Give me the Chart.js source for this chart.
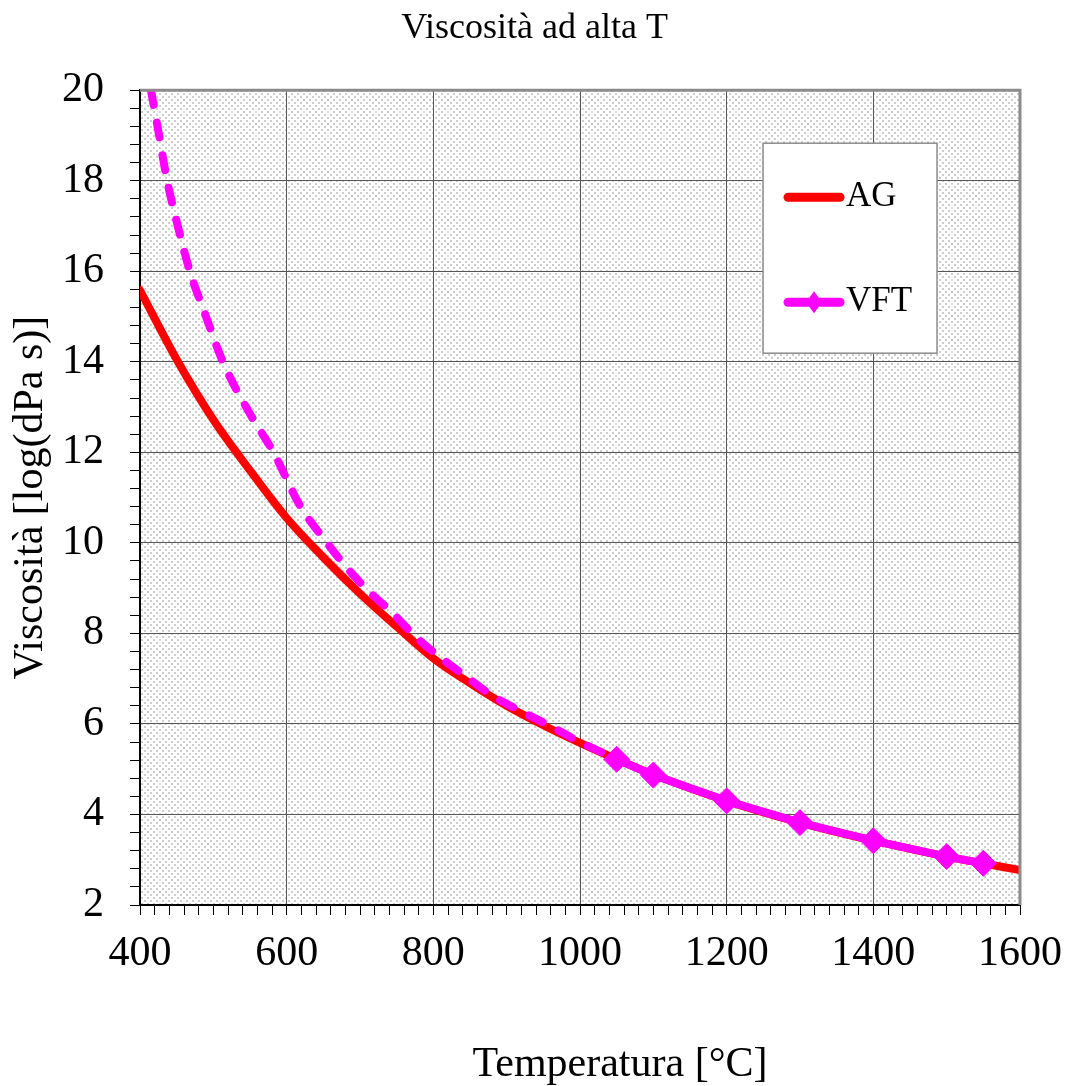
<!DOCTYPE html>
<html>
<head>
<meta charset="utf-8">
<title>Viscosità ad alta T</title>
<script src="https://cdn.jsdelivr.net/npm/chart.js@4.4.1/dist/chart.umd.min.js"></script>
<style>
  body { margin: 0; background: #fff; }
  canvas { display: block; }
</style>
</head>
<body>
<canvas id="myChart" width="1069" height="1086"></canvas>
<script>
// AG curve
var agTemp = [400, 450, 500, 550, 600, 650, 700, 750, 800, 850, 900, 950, 1000, 1050, 1100, 1200, 1300, 1400, 1500, 1550, 1600];
var agVisc = [15.58, 14.05, 12.72, 11.6, 10.55, 9.68, 8.88, 8.15, 7.45, 6.9, 6.4, 5.97, 5.58, 5.22, 4.88, 4.3, 3.82, 3.42, 3.07, 2.92, 2.77];

// VFT extrapolated part (dashed)
var vftDashTemp = [415, 425, 437, 450, 468, 490, 513, 550, 582, 618, 655, 682, 714, 745, 775, 807, 842, 879, 916, 960, 1000, 1050];
var vftDashVisc = [20.0, 19.1, 18.0, 17.1, 16.0, 15.0, 14.0, 12.85, 12.0, 10.83, 10.0, 9.45, 8.9, 8.44, 7.94, 7.5, 7.08, 6.64, 6.31, 5.95, 5.6, 5.22];

// VFT points with markers
var vftTemp = [1050, 1100, 1200, 1300, 1400, 1500, 1550];
var vftVisc = [5.22, 4.87, 4.30, 3.82, 3.42, 3.07, 2.92];

var xTickLabels = [400, 600, 800, 1000, 1200, 1400, 1600];
var yTickLabels = [2, 4, 6, 8, 10, 12, 14, 16, 18, 20];

var FONT = "'Liberation Serif', 'Times New Roman', serif";

function toPoints(xs, ys) {
    var pts = [];
    for (let i = 0; i < xs.length; i++) {
        pts.push({x: xs[i], y: ys[i]});
    }
    return pts;
}

function isMajor(list, v) {
    return list.some(function(t) { return Math.abs(t - v) < 1e-6; });
}

// dotted plot background
function makePattern() {
    var c = document.createElement('canvas');
    c.width = 6;
    c.height = 6;
    var g = c.getContext('2d');
    g.fillStyle = '#ffffff';
    g.fillRect(0, 0, 6, 6);
    g.fillStyle = '#cdcdcd';
    g.fillRect(0, 0, 2, 2);
    g.fillRect(3, 3, 2, 2);
    return g.createPattern(c, 'repeat');
}

var plotBackground = {
    id: 'plotBackground',
    beforeDraw: function(chart) {
        var a = chart.chartArea;
        var ctx = chart.ctx;
        ctx.save();
        ctx.fillStyle = makePattern();
        ctx.fillRect(a.left, a.top, a.right - a.left, a.bottom - a.top);
        ctx.restore();
    },
    afterDatasetsDraw: function(chart) {
        var a = chart.chartArea;
        var ctx = chart.ctx;
        ctx.save();
        // grey frame on top and right
        ctx.strokeStyle = '#8c8c8c';
        ctx.lineWidth = 3;
        ctx.beginPath();
        ctx.moveTo(a.left, a.top);
        ctx.lineTo(a.right, a.top);
        ctx.lineTo(a.right, a.bottom);
        ctx.stroke();
        ctx.restore();
    }
};

// legend box inside the plot
var boxLegend = {
    id: 'boxLegend',
    afterDatasetsDraw: function(chart) {
        var ctx = chart.ctx;
        var a = chart.chartArea;
        var bx = a.left + (a.right - a.left) * 0.708;
        var by = a.top + 53;
        var bw = 174, bh = 210;
        ctx.save();
        ctx.fillStyle = '#ffffff';
        ctx.fillRect(bx, by, bw, bh);
        ctx.strokeStyle = '#8c8c8c';
        ctx.lineWidth = 1.5;
        ctx.strokeRect(bx, by, bw, bh);

        var items = chart.data.datasets.filter(function(d) { return !d.hideInLegend; });
        items.forEach(function(d, i) {
            var y = by + 54 + i * 105;
            ctx.strokeStyle = d.borderColor;
            ctx.lineWidth = 9;
            ctx.lineCap = 'round';
            ctx.beginPath();
            ctx.moveTo(bx + 25, y);
            ctx.lineTo(bx + 77, y);
            ctx.stroke();
            if (d.pointRadius) {
                ctx.fillStyle = d.borderColor;
                ctx.beginPath();
                ctx.moveTo(bx + 51, y - 11);
                ctx.lineTo(bx + 59, y);
                ctx.lineTo(bx + 51, y + 11);
                ctx.lineTo(bx + 43, y);
                ctx.closePath();
                ctx.fill();
            }
            ctx.fillStyle = '#000';
            ctx.font = '35px ' + FONT;
            ctx.textBaseline = 'middle';
            ctx.textAlign = 'left';
            ctx.fillText(d.label, bx + 83, y);
        });
        ctx.restore();
    }
};

// x axis title, placed a little right of centre like the original
var xTitle = {
    id: 'xTitle',
    afterDraw: function(chart) {
        var ctx = chart.ctx;
        var a = chart.chartArea;
        ctx.save();
        ctx.fillStyle = '#000';
        ctx.font = '42px ' + FONT;
        ctx.textAlign = 'center';
        ctx.textBaseline = 'alphabetic';
        ctx.fillText('Temperatura [°C]', (a.left + a.right) / 2 + 40, a.bottom + 171);
        ctx.restore();
    }
};

var ctx = document.getElementById('myChart').getContext('2d');
var myChart = new Chart(ctx, {
    type: 'line',
    data: {
        datasets: [{
            label: 'AG',
            data: toPoints(agTemp, agVisc),
            borderColor: '#ff0000',
            borderWidth: 8,
            borderCapStyle: 'round',
            pointRadius: 0,
            cubicInterpolationMode: 'monotone',
            order: 3
        }, {
            label: 'VFT (extrapolated)',
            hideInLegend: true,
            data: toPoints(vftDashTemp, vftDashVisc),
            borderColor: '#ff00ff',
            borderWidth: 8,
            borderDash: [15, 18],
            borderCapStyle: 'round',
            pointRadius: 0,
            cubicInterpolationMode: 'monotone',
            order: 2
        }, {
            label: 'VFT',
            data: toPoints(vftTemp, vftVisc),
            borderColor: '#ff00ff',
            backgroundColor: '#ff00ff',
            borderWidth: 8,
            borderCapStyle: 'round',
            pointStyle: 'rectRot',
            pointRadius: 13,
            pointBorderWidth: 1,
            pointBackgroundColor: '#ff00ff',
            order: 1
        }]
    },
    options: {
        responsive: false,
        animation: false,
        layout: {
            padding: {left: 0, right: 0, top: 0, bottom: 90}
        },
        plugins: {
            legend: { display: false },
            tooltip: { enabled: false },
            title: {
                display: true,
                text: 'Viscosità ad alta T',
                color: '#000',
                font: { family: FONT, size: 36, weight: 'normal' },
                padding: { top: 7, bottom: 40 }
            }
        },
        scales: {
            x: {
                type: 'linear',
                min: 400,
                max: 1600,
                afterFit: function(scale) {
                    // room on the right for the last label
                    scale.height = 91;
                    scale.paddingRight = 49;
                    scale.paddingLeft = 0;
                },
                border: { color: '#000', width: 2 },
                grid: {
                    color: function(c) { return isMajor(xTickLabels, c.tick.value) ? '#555' : 'rgba(0,0,0,0)'; },
                    borderDash: [2, 2],
                    lineWidth: 1,
                    tickColor: '#000',
                    tickLength: 10,
                    tickBorderDash: []
                },
                ticks: {
                    stepSize: 20,
                    autoSkip: false,
                    maxRotation: 0,
                    minRotation: 0,
                    padding: 14,
                    color: '#000',
                    font: { family: FONT, size: 42 },
                    callback: function(v) { return isMajor(xTickLabels, v) ? String(v) : ''; }
                }
            },
            y: {
                type: 'linear',
                min: 2,
                max: 20,
                afterFit: function(scale) { scale.width = 140; },
                border: { color: '#000', width: 2 },
                grid: {
                    color: function(c) { return isMajor(yTickLabels, c.tick.value) ? '#555' : 'rgba(0,0,0,0)'; },
                    borderDash: [2, 2],
                    lineWidth: 1,
                    tickColor: '#000',
                    tickLength: 10,
                    tickBorderDash: []
                },
                ticks: {
                    stepSize: 0.4,
                    autoSkip: false,
                    padding: 26,
                    color: '#000',
                    font: { family: FONT, size: 42 },
                    callback: function(v) { return isMajor(yTickLabels, v) ? String(Math.round(v)) : ''; }
                },
                title: {
                    display: true,
                    text: 'Viscosità [log(dPa s)]',
                    color: '#000',
                    font: { family: FONT, size: 42 },
                    padding: { top: 6, bottom: 0 }
                }
            }
        }
    },
    plugins: [plotBackground, boxLegend, xTitle]
});
</script>
</body>
</html>
